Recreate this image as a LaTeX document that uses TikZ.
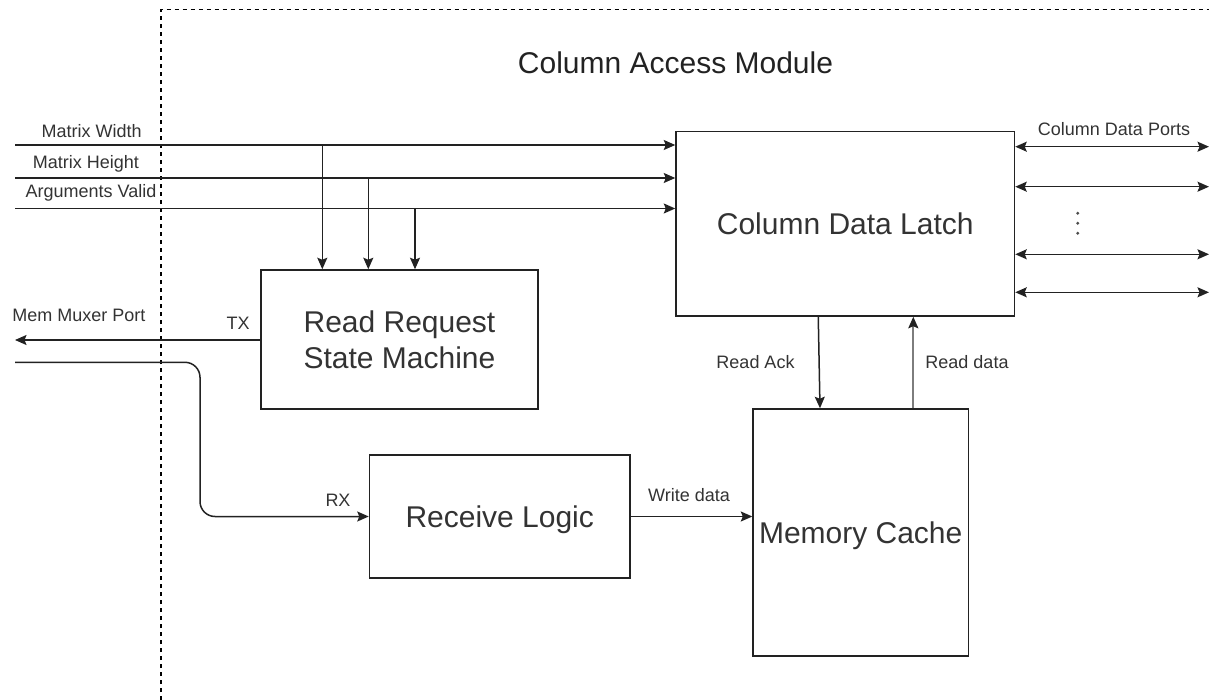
\documentclass[tikz,border=0pt]{standalone}
\usepackage{fontspec}
\setmainfont{Liberation Sans}
\usetikzlibrary{arrows.meta}
\definecolor{ink}{RGB}{34,34,34}
\definecolor{txt}{RGB}{51,51,51}
\definecolor{pale}{RGB}{125,125,125}
\tikzset{
  tip/.tip={Stealth[length=11.5pt,width=10pt,inset=2pt]},
}
\begin{document}
\begin{tikzpicture}[x=1pt,y=-1pt,
  blk/.style={draw=ink, line width=1.5pt, inner sep=0pt, text=txt,
    font=\fontsize{30}{36}\selectfont, align=center,
    text height=21.5pt, text depth=0pt},
  lbl/.style={anchor=base, text=txt, font=\fontsize{18}{21}\selectfont, inner sep=0pt},
  wire/.style={draw=ink, line width=1.5pt, -tip},
  bus/.style={draw=ink, line width=1.5pt, tip-tip},
  boundary/.style={draw=black, line width=1.3pt, dash pattern=on 4pt off 4pt}]

\useasboundingbox (0,0) rectangle (1209,700);

% module boundary and title
\draw[boundary] (161,700) -- (161,9.5) -- (1209,9.5);
\node[anchor=base, text=ink, font=\fontsize{30}{36}\selectfont, inner sep=0pt] (title) at (675.5,73.3) {Column Access Module};

% blocks
\node[blk, minimum width=338.5pt, minimum height=184.5pt] (latch) at (845.25,223.75) {Column Data Latch};
\node[blk, minimum width=277pt, minimum height=139pt, text height=57.5pt] (rrsm) at (399.5,339.5) {Read Request\\State Machine};
\node[blk, minimum width=260.5pt, minimum height=123pt] (recv) at (499.75,516.5) {Receive Logic};
\node[blk, minimum width=215.3pt, minimum height=247pt] (cache) at (860.7,532.5) {Memory Cache};

% argument inputs
\coordinate (mw) at (15,145);
\coordinate (mh) at (15,178);
\coordinate (av) at (15,208.5);
\draw[wire] (mw) -- (mw -| latch.west);
\draw[wire] (mh) -- (mh -| latch.west);
\draw[wire] (av) -- (av -| latch.west);
\node[lbl] (lmw) at (91.7,137.3) {Matrix Width};
\node[lbl] (lmh) at (86,168.3) {Matrix Height};
\node[lbl] (lav) at (91,197.3) {Arguments Valid};

% taps into the request state machine
\coordinate (tw) at (322.3,145);
\coordinate (th) at (368.3,178);
\coordinate (tv) at (415,208.5);
\draw[wire] (tw) -- (tw |- rrsm.north);
\draw[wire] (th) -- (th |- rrsm.north);
\draw[wire] (tv) -- (tv |- rrsm.north);

% memory muxer port
\coordinate (txout) at (15,340);
\coordinate (rxin) at (15,362.3);
\coordinate (rxbend) at (200,362.3);
\draw[wire] (rrsm.west |- txout) -- (txout);
\draw[wire, rounded corners=15pt] (rxin) -- (rxbend) |- (recv.west);
\node[lbl] (lmmp) at (79,321.7) {Mem Muxer Port};
\node[lbl] (ltx) at (238,329) {TX};
\node[lbl] (lrx) at (338,506.7) {RX};

% receive path into the cache
\draw[wire] (recv.east) -- (recv.east -| cache.west);
\node[lbl] (lwd) at (689,501.7) {Write data};

% latch <-> cache
\draw[wire] ([xshift=-27pt]latch.south) -- ([xshift=-40.7pt]cache.north);
\node[lbl] (lra) at (755.5,368.3) {Read Ack};
\draw[draw=pale, line width=2pt, -{Stealth[length=11.5pt,width=10pt,inset=2pt,color=ink]}]
  ([xshift=52.6pt]cache.north) -- ([xshift=52.6pt]cache.north |- latch.south);
\node[lbl] (lrd) at (967,368.3) {Read data};

% column data ports
\coordinate (p1) at (1209,146.7);
\coordinate (p2) at (1209,186.7);
\coordinate (p3) at (1209,254.3);
\coordinate (p4) at (1209,292.3);
\draw[bus] (latch.east |- p1) -- (p1);
\draw[bus] (latch.east |- p2) -- (p2);
\draw[bus] (latch.east |- p3) -- (p3);
\draw[bus] (latch.east |- p4) -- (p4);
\node[lbl] (lcdp) at (1114,136) {Column Data Ports};
\foreach \yy in {213.3,223.3,233.3}
  \fill[ink!80] (1077.7,\yy) circle (1.6pt);

\end{tikzpicture}
\end{document}
